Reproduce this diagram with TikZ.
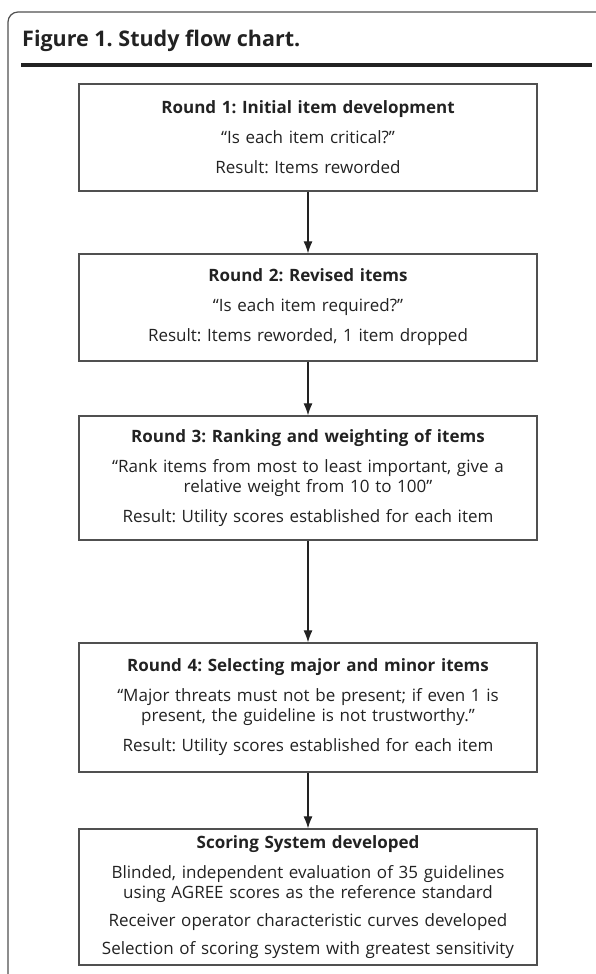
\documentclass[tikz,border=0pt]{standalone}
\usepackage{fontspec}
\setmainfont{Open Sans}
\usetikzlibrary{positioning,arrows.meta}
\definecolor{inkgray}{HTML}{222222}
\definecolor{edgegray}{HTML}{505050}
\tikzstyle{flowbox}=[draw=edgegray,line width=1.3pt,text width=452pt,align=center,inner sep=3pt,text=inkgray,font=\frenchspacing\fontsize{17}{20}\selectfont]
\tikzstyle{flowarrow}=[draw=inkgray,line width=1.1pt,-{Latex[length=12pt,width=9pt]}]

\begin{document}
\begin{tikzpicture}[x=1pt,y=-1pt]
    \useasboundingbox (0,0) rectangle (595,974);
    % frame and header
    \draw[edgegray,line width=1.2pt,rounded corners=10pt] (8,980) -- (8,12) -- (600,12);
    \node[anchor=base west,inner sep=0pt,text=inkgray,font=\frenchspacing\bfseries\fontsize{21.5}{26}\selectfont] (title) at (22,47) {Figure 1. Study flow chart.};
    \draw[inkgray,line width=3.5pt] (21,65) -- (592,65);

    \node[flowbox,minimum height=107pt] (r1) at (308,137.5) {{\bfseries Round 1: Initial item development}\\[10pt]
        “Is each item critical?”\\[10pt]
        Result: Items reworded};
    \node[flowbox,minimum height=107pt] (r2) at (308,307.5) {{\bfseries Round 2: Revised items}\\[10pt]
        “Is each item required?”\\[10pt]
        Result: Items reworded, 1 item dropped};
    \node[flowbox,minimum height=124pt] (r3) at (308,478) {{\bfseries Round 3: Ranking and weighting of items}\\[10pt]
        “Rank items from most to least important, give a\\ relative weight from 10 to 100”\\[10pt]
        Result: Utility scores established for each item};
    \node[flowbox,minimum height=129pt] (r4) at (308,707.5) {{\bfseries Round 4: Selecting major and minor items}\\[10pt]
        “Major threats must not be present; if even 1 is\\ present, the guideline is not trustworthy.”\\[10pt]
        Result: Utility scores established for each item};
    \node[flowbox,minimum height=136pt] (sc) at (308,897) {{\bfseries Scoring System developed}\\[10pt]
        Blinded, independent evaluation of 35 guidelines\\ using AGREE scores as the reference standard\\[8pt]
        Receiver operator characteristic curves developed\\[8pt]
        Selection of scoring system with greatest sensitivity};

    \foreach \from/\to in {r1/r2,r2/r3,r3/r4,r4/sc}
    \draw[flowarrow] (\from) -- (\to);
\end{tikzpicture}
\end{document}
